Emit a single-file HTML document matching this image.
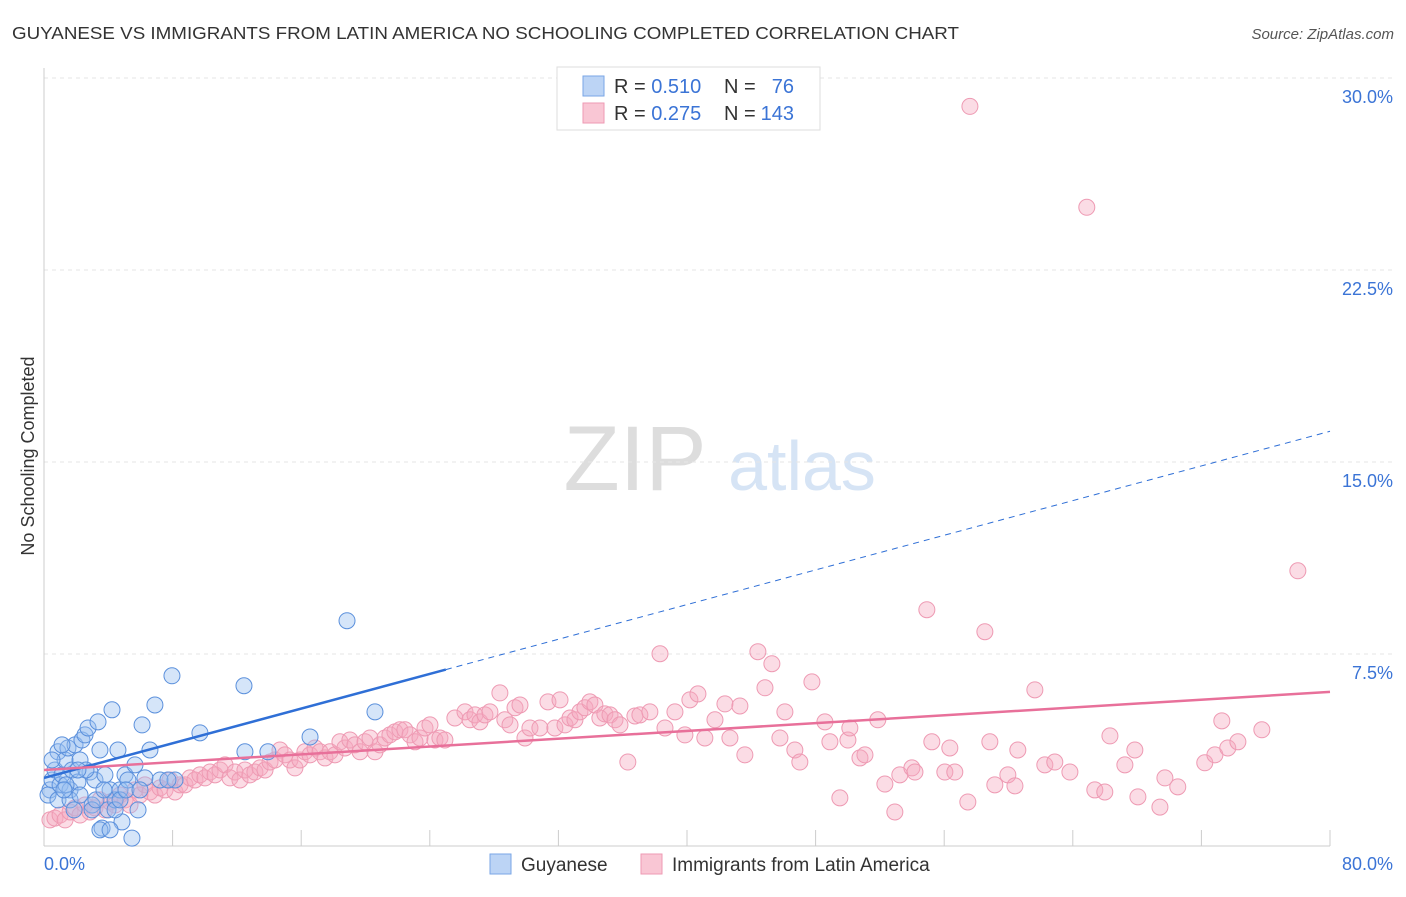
<!DOCTYPE html>
<html><head><meta charset="utf-8"><style>
body{margin:0;background:#fff;font-family:"Liberation Sans",sans-serif;}
svg text{font-family:"Liberation Sans",sans-serif;}
</style></head><body>
<svg id="chart" width="1406" height="892">
<text x="12" y="39" font-size="17.5" fill="#333" textLength="947" lengthAdjust="spacingAndGlyphs">GUYANESE VS IMMIGRANTS FROM LATIN AMERICA NO SCHOOLING COMPLETED CORRELATION CHART</text>
<text x="1394" y="39" font-size="15" fill="#555" font-style="italic" text-anchor="end">Source: ZipAtlas.com</text>
<g><text x="635" y="490" font-size="92" fill="#ddd" font-family="Liberation Serif" text-anchor="middle">ZIP</text><text x="802" y="490" font-size="70" fill="#d6e4f5" text-anchor="middle">atlas</text></g>
<text transform="translate(34,456) rotate(-90)" font-size="18" fill="#333" text-anchor="middle">No Schooling Completed</text>
<g id="grid"></g><g id="axes"></g><g id="marks"></g><g id="lines"></g>
<g>
<rect x="557" y="67" width="263" height="63" fill="#fff" stroke="#ddd"/>
<rect x="583" y="76" width="21" height="20" fill="#bcd4f5" stroke="#7aa6e6"/>
<rect x="583" y="103" width="21" height="20" fill="#f9c6d4" stroke="#ee9ab3"/>
<text x="614" y="93" font-size="20" fill="#333">R = <tspan fill="#3b74d6">0.510</tspan></text>
<text x="724" y="93" font-size="20" fill="#333">N =</text>
<text x="794" y="93" font-size="20" fill="#3b74d6" text-anchor="end">76</text>
<text x="614" y="120" font-size="20" fill="#333">R = <tspan fill="#3b74d6">0.275</tspan></text>
<text x="724" y="120" font-size="20" fill="#333">N =</text>
<text x="794" y="120" font-size="20" fill="#3b74d6" text-anchor="end">143</text>
</g>
<g>
<rect x="490" y="854" width="21" height="20" fill="#bcd4f5" stroke="#7aa6e6"/>
<text x="521" y="871" font-size="19" fill="#333">Guyanese</text>
<rect x="641" y="854" width="21" height="20" fill="#f9c6d4" stroke="#ee9ab3"/>
<text x="672" y="871" font-size="19" fill="#333">Immigrants from Latin America</text>
</g>
</svg>
<script>
const yTicks=[7.5,15,22.5,30];
const yTickLabels=["7.5%","15.0%","22.5%","30.0%"];
const xTicks=[0,8,16,24,32,40,48,56,64,72,80];
const blueX=[0.37,0.50,0.68,0.87,1.0,1.12,1.31,1.49,1.62,1.74,1.93,2.11,2.24,2.36,2.55,2.74,2.86,2.99,3.17,3.36,3.48,3.61,3.79,3.98,4.11,4.23,4.42,4.60,4.73,4.85,5.04,5.22,5.47,5.66,5.85,6.10,6.28,6.59,6.90,7.22,7.96,8.15,9.70,12.44,12.50,13.93,16.55,18.85,20.59,0.25,0.5,0.87,1.12,1.37,1.62,1.87,2.24,2.61,2.99,3.23,3.48,3.73,4.11,4.42,4.73,5.10,5.97,7.71,1.24,2.11];
const blueY=[2.19,2.58,2.97,3.68,2.39,2.78,3.36,3.83,2.19,2.97,3.95,2.50,3.36,4.14,4.34,4.61,2.89,1.60,2.58,4.85,3.75,0.70,2.78,1.41,2.19,5.32,1.80,3.75,2.19,0.94,2.78,2.58,0.31,3.17,1.41,4.73,2.66,3.75,5.51,2.58,6.65,2.58,4.42,6.26,3.68,3.68,4.26,8.80,5.24,1.99,3.36,1.80,3.95,2.39,1.80,1.41,1.99,2.97,1.41,1.80,0.63,2.19,0.63,1.41,1.80,2.19,2.19,2.58,2.19,2.97];
const pinkX=[0.37,0.68,1.0,1.31,1.62,1.93,2.24,2.55,2.86,3.17,3.48,3.79,4.11,4.42,4.73,5.04,5.35,5.66,5.97,6.28,6.59,6.90,7.22,7.53,7.84,8.15,8.46,8.77,9.08,9.39,9.70,10.01,10.33,10.64,10.95,11.26,11.57,11.88,12.19,12.50,12.81,13.12,13.44,13.75,14.06,14.37,14.68,14.99,15.30,15.61,15.92,16.23,16.55,16.86,17.17,17.48,17.79,18.10,18.41,18.72,19.03,19.34,19.66,19.97,20.28,20.59,20.90,21.21,21.52,21.83,22.14,22.45,22.77,23.08,23.39,23.70,24.01,24.32,24.63,24.94,25.56,26.19,26.50,26.81,27.12,27.43,27.74,28.36,28.67,28.99,29.30,29.61,29.92,30.23,30.85,31.35,31.78,32.10,32.41,32.72,33.03,33.34,33.65,33.96,34.27,34.58,34.89,35.21,35.52,35.83,36.32,36.76,37.07,37.69,38.32,38.63,39.25,39.87,40.18,40.68,41.11,41.74,42.36,42.67,43.29,43.60,44.41,44.85,45.28,45.78,46.09,46.71,47.02,47.77,48.58,48.89,49.51,50.01,50.13,50.76,51.07,51.87,52.31,52.93,53.24,53.99,54.18,54.92,55.23,56.04,56.35,56.66,57.47,57.60,58.53,58.84,59.15,59.96,60.40,60.58,61.64,62.26,62.88,63.82,64.87,65.37,65.99,66.31,67.24,67.86,68.05,69.42,69.73,70.53,72.21,72.84,73.27,73.64,74.27,75.76,78.0];
const pinkY=[1.02,1.09,1.21,1.02,1.33,1.49,1.21,1.60,1.33,1.49,1.80,1.41,1.72,1.60,1.99,1.80,1.60,2.19,1.99,2.39,2.11,1.99,2.27,2.19,2.58,2.11,2.39,2.39,2.66,2.58,2.78,2.66,2.89,2.78,2.97,3.17,2.66,2.89,2.58,2.97,2.78,2.89,3.05,2.97,3.28,3.36,3.75,3.56,3.36,3.05,3.36,3.68,3.56,3.83,3.68,3.44,3.68,3.56,4.07,3.83,4.14,3.95,3.68,4.07,4.22,3.68,3.95,4.22,4.34,4.46,4.54,4.54,4.34,4.07,4.22,4.61,4.73,4.14,4.22,4.14,5.00,5.24,4.93,5.12,4.85,5.12,5.24,5.98,4.93,4.73,5.40,5.51,4.22,4.61,4.61,5.63,4.61,5.71,4.73,5.00,4.93,5.24,5.40,5.63,5.51,5.00,5.16,5.12,4.93,4.73,3.28,5.08,5.12,5.24,7.51,4.61,5.24,4.34,5.71,5.94,4.22,4.93,5.55,4.22,5.47,3.56,7.59,6.18,7.12,4.22,5.24,3.75,3.28,6.41,4.85,4.07,1.88,4.14,4.61,3.44,3.56,4.93,2.42,1.33,2.78,3.05,2.89,9.23,4.07,2.89,3.83,2.89,1.72,28.89,8.37,4.07,2.39,2.78,2.35,3.75,6.10,3.17,3.28,2.89,24.95,2.19,2.11,4.30,3.17,3.75,1.92,1.52,2.66,2.31,3.25,3.56,4.89,3.83,4.07,4.54,10.75];
const blueTrend=[2.66,16.2], blueSolidEnd=25;
const pinkTrend=[2.97,6.02];
const NS="http://www.w3.org/2000/svg";
const X0=44,X1=1330,Y0=846,Y30=78;
const sx=v=>X0+(X1-X0)*v/80;
const sy=v=>Y0-(Y0-Y30)*v/30;
function mk(tag,attrs,parent){const e=document.createElementNS(NS,tag);for(const k in attrs)e.setAttribute(k,attrs[k]);document.getElementById(parent).appendChild(e);return e;}
yTicks.forEach((t,i)=>{
 const g=mk('line',{x1:X0,x2:1394,y1:sy(t),y2:sy(t),stroke:'#e6e6e6','stroke-dasharray':'4,4'},'grid');
 
 
 const l=mk('text',{x:1393,y:sy(t)+25,'font-size':18,fill:'#3b74d6','text-anchor':'end'},'grid');
 l.textContent=yTickLabels[i];
 
 
});
const ax=mk('line',{x1:X0,x2:X0,y1:68,y2:Y0,stroke:'#ccc'},'axes');


const bx=mk('line',{x1:X0,x2:X1,y1:Y0,y2:Y0,stroke:'#ccc'},'axes');


xTicks.forEach(t=>{const k=mk('line',{x1:sx(t),x2:sx(t),y1:Y0,y2:Y0-16,stroke:'#ccc'},'axes');
 
 });
const xl=mk('text',{x:44,y:870,'font-size':18,fill:'#3b74d6'},'axes');xl.textContent='0.0%';


const xr=mk('text',{x:1393,y:870,'font-size':18,fill:'#3b74d6','text-anchor':'end'},'axes');xr.textContent='80.0%';


pinkX.forEach((x,i)=>{const c=mk('circle',{cx:sx(x),cy:sy(pinkY[i]),r:8,fill:'rgba(246,168,190,0.4)',stroke:'#ee9ab3','stroke-width':1},'marks');
 
 });
blueX.forEach((x,i)=>{const c=mk('circle',{cx:sx(x),cy:sy(blueY[i]),r:8,fill:'rgba(150,190,240,0.4)',stroke:'#5b90dc','stroke-width':1},'marks');
 
 });
const bY=v=>blueTrend[0]+(blueTrend[1]-blueTrend[0])*v/80;
const b1=mk('line',{x1:sx(0),y1:sy(bY(0)),x2:sx(blueSolidEnd),y2:sy(bY(blueSolidEnd)),stroke:'#2f6fd6','stroke-width':2.5},'lines');


const b2=mk('line',{x1:sx(blueSolidEnd),y1:sy(bY(blueSolidEnd)),x2:sx(80),y2:sy(bY(80)),stroke:'#2f6fd6','stroke-width':1,'stroke-dasharray':'6,5'},'lines');


const p1=mk('line',{x1:sx(0),y1:sy(pinkTrend[0]),x2:sx(80),y2:sy(pinkTrend[1]),stroke:'#e8709a','stroke-width':2.5},'lines');


</script>
</body></html>
